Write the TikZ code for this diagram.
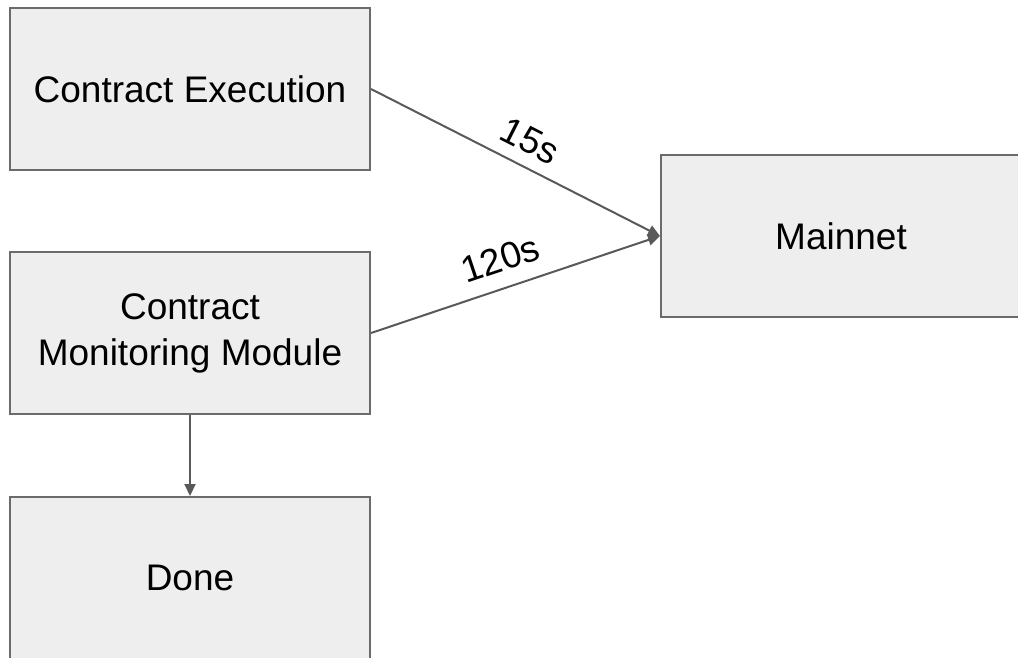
\documentclass[tikz,border=0pt]{standalone}
\usepackage{fontspec}
\setmainfont{Liberation Sans}
\usetikzlibrary{arrows.meta}
\definecolor{boxfill}{HTML}{EEEEEE}
\definecolor{boxline}{HTML}{6B6B6B}
\definecolor{arrowcol}{HTML}{595959}
\begin{document}
\begin{tikzpicture}[x=1pt,y=-1pt,
  box/.style={draw=boxline, fill=boxfill, line width=2pt, minimum width=360pt, minimum height=162pt, inner sep=0pt, align=center, font=\fontsize{37}{46}\selectfont},
  conn/.style={draw=arrowcol, line width=2pt, -{Triangle[length=12pt,width=11pt]}},
  lbl/.style={font=\fontsize{37}{40}\selectfont, sloped, inner sep=3pt}]
\clip (0,0) rectangle (1018,657);
\node[box] (ce) at (190,89) {Contract Execution};
\node[box] (cm) at (190,333) {Contract\\Monitoring Module};
\node[box] (dn) at (190,578) {Done};
\node[box] (mn) at (841,236) {Mainnet};
\draw[conn] (ce.east) -- node[lbl, pos=0.51, above=9pt] {15s} (mn.west);
\draw[conn] (cm.east) -- node[lbl, pos=0.48, above=12pt] {120s} (mn.west);
\draw[conn] (cm.south) -- (dn.north);
\end{tikzpicture}
\end{document}
